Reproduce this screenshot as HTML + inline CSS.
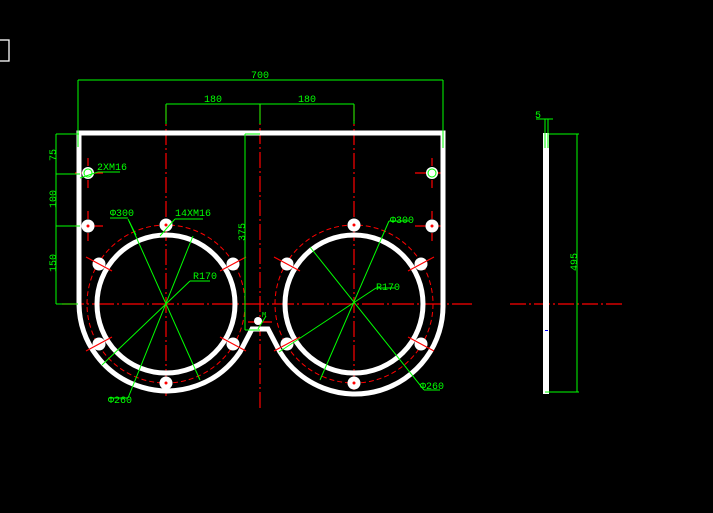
<!DOCTYPE html>
<html><head><style>html,body{margin:0;padding:0;background:#000;width:713px;height:513px;overflow:hidden}</style></head>
<body>
<svg width="713" height="513" viewBox="0 0 713 513" xmlns="http://www.w3.org/2000/svg" font-family="Liberation Mono, monospace">
<rect x="0" y="0" width="713" height="513" fill="#000"/>
<rect x="-2" y="40" width="11" height="21" fill="none" stroke="#fff" stroke-width="1.3"/>

<g stroke="#ff0000" stroke-width="1.2" fill="none">
<line x1="62" y1="304" x2="472" y2="304" stroke-dasharray="22,3,2,3"/>
<line x1="166" y1="105" x2="166" y2="396" stroke-dasharray="16,3,2,3"/>
<line x1="354" y1="105" x2="354" y2="396" stroke-dasharray="16,3,2,3"/>
<line x1="260" y1="104" x2="260" y2="410" stroke-dasharray="16,3,2,3"/>
<circle cx="166" cy="304" r="79" stroke-dasharray="5,3" stroke-width="1"/>
<circle cx="354" cy="304" r="79" stroke-dasharray="5,3" stroke-width="1"/>
<line x1="510" y1="304" x2="624" y2="304" stroke-dasharray="16,3,2,3"/>
<line x1="75" y1="173" x2="103" y2="173"/><line x1="88" y1="158" x2="88" y2="188" stroke-dasharray="8,3"/>
<line x1="75" y1="226" x2="103" y2="226"/><line x1="88" y1="211" x2="88" y2="241" stroke-dasharray="8,3"/>
<line x1="415" y1="173" x2="443" y2="173"/><line x1="432" y1="158" x2="432" y2="188" stroke-dasharray="8,3"/>
<line x1="415" y1="226" x2="443" y2="226"/><line x1="432" y1="211" x2="432" y2="241" stroke-dasharray="8,3"/>
<line x1="248" y1="322" x2="272" y2="322"/>
</g>

<g stroke="#fff" stroke-width="5" fill="none">
<path d="M79 133 L443 133 L443 304 A88 88 0 0 1 280 352 L268 329 L252 329 L240 352 A88 88 0 0 1 79 304 Z"/>
<circle cx="166" cy="304" r="69"/>
<circle cx="354" cy="304" r="69"/>
</g>
<rect x="543" y="133" width="6" height="261" fill="#fff"/>
<rect x="545" y="330" width="3" height="1" fill="#00f"/>

<g fill="#fff">
<circle cx="88" cy="173" r="6"/><circle cx="88" cy="226" r="6.5"/>
<circle cx="432" cy="173" r="6"/><circle cx="432" cy="226" r="6.5"/>
<circle cx="258" cy="321" r="4"/>
<g id="h">
<circle cx="166" cy="225" r="6.5"/><circle cx="166" cy="383" r="6.5"/>
<circle cx="99" cy="264" r="6.5"/><circle cx="233" cy="264" r="6.5"/>
<circle cx="99" cy="344" r="6.5"/><circle cx="233" cy="344" r="6.5"/>
</g>
<use href="#h" x="188"/>
</g>
<g stroke="#ff0000" stroke-width="1.2">
<g id="hc">
<line x1="86" y1="257" x2="112" y2="271"/><line x1="220" y1="271" x2="246" y2="257"/>
<line x1="86" y1="351" x2="112" y2="337"/><line x1="220" y1="337" x2="246" y2="351"/>
</g>
<use href="#hc" x="188"/>
</g>
<g fill="#ff0000"><circle cx="166" cy="225" r="1.5"/><circle cx="166" cy="383" r="1.5"/><circle cx="354" cy="225" r="1.5"/><circle cx="354" cy="383" r="1.5"/><circle cx="88" cy="226" r="1.5"/><circle cx="432" cy="226" r="1.5"/></g>

<g stroke="#00ff00" stroke-width="1" fill="none">
<circle cx="88" cy="173" r="4"/><circle cx="432" cy="173" r="4"/>
<line x1="78" y1="80" x2="443" y2="80"/>
<line x1="78" y1="80" x2="78" y2="147"/><line x1="443" y1="80" x2="443" y2="148"/>
<line x1="166" y1="104" x2="354" y2="104"/>
<line x1="166" y1="104" x2="166" y2="124"/><line x1="260" y1="104" x2="260" y2="124"/><line x1="354" y1="104" x2="354" y2="124"/>
<line x1="56" y1="134" x2="56" y2="304"/>
<line x1="56" y1="134" x2="79" y2="134"/><line x1="56" y1="174" x2="80" y2="174"/>
<line x1="56" y1="226" x2="80" y2="226"/><line x1="56" y1="304" x2="78" y2="304"/>
<line x1="245" y1="134" x2="245" y2="330"/><line x1="245" y1="134" x2="260" y2="134"/><line x1="245" y1="330" x2="260" y2="330"/>
<line x1="80" y1="178" x2="98" y2="172"/><line x1="98" y1="172" x2="120" y2="172"/>
<line x1="160" y1="236" x2="175" y2="219"/><line x1="175" y1="219" x2="203" y2="219"/>
<line x1="128" y1="219" x2="136" y2="235"/>
<line x1="110" y1="218" x2="128" y2="218"/>
<line x1="129" y1="221" x2="200" y2="380"/>
<line x1="193" y1="236" x2="128" y2="398"/>
<line x1="102" y1="365" x2="190" y2="281"/><line x1="190" y1="281" x2="210" y2="281"/>
<line x1="109" y1="398" x2="128" y2="398"/>
<line x1="310" y1="247" x2="424" y2="390"/><line x1="424" y1="390" x2="440" y2="390"/>
<line x1="389" y1="221" x2="320" y2="380"/><line x1="389" y1="221" x2="409" y2="221"/>
<line x1="279" y1="352" x2="376" y2="288"/><line x1="376" y1="288" x2="395" y2="288"/>
<line x1="258" y1="329" x2="266" y2="316"/>
<line x1="536" y1="119" x2="553" y2="119"/>
<line x1="545" y1="119" x2="545" y2="148"/><line x1="548" y1="119" x2="548" y2="148"/>
<line x1="549" y1="134" x2="579" y2="134"/>
<line x1="577" y1="134" x2="577" y2="392"/>
<line x1="545" y1="392" x2="579" y2="392"/>
</g>
<g fill="#00ff00" font-size="10">
<text x="251" y="78">700</text>
<text x="204" y="102">180</text>
<text x="298" y="102">180</text>
<text x="97" y="170">2XM16</text>
<text x="175" y="216">14XM16</text>
<text x="110" y="216">Φ300</text>
<text x="193" y="279">R170</text>
<text x="108" y="403">Φ260</text>
<text x="390" y="223">Φ300</text>
<text x="376" y="290">R170</text>
<text x="420" y="389">Φ260</text>
<text x="535" y="118">5</text>
<text x="262" y="317" font-size="7">M</text>
<text transform="translate(56,161) rotate(-90)">75</text>
<text transform="translate(56,208) rotate(-90)">100</text>
<text transform="translate(56,272) rotate(-90)">150</text>
<text transform="translate(245,241) rotate(-90)">375</text>
<text transform="translate(577,271) rotate(-90)">495</text>
</g>
</svg>
</body></html>
